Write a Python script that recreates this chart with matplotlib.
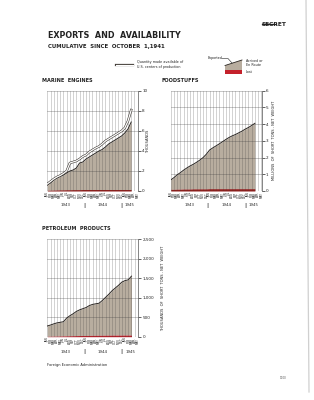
import matplotlib
matplotlib.use('Agg')
import matplotlib.pyplot as plt
import matplotlib.patheffects as pe
from matplotlib.lines import Line2D
from matplotlib.patches import Polygon, Rectangle

W, H = 314, 400

# ---------------- data ----------------
months = ['JAN', 'FEB', 'MAR', 'APR', 'MAY', 'JUN', 'JUL', 'AUG', 'SEP', 'OCT', 'NOV', 'DEC'] * 2 + \
         ['JAN', 'FEB', 'MAR', 'APR', 'MAY']
years = ['1943', '1944', '1945']

# Marine engines (thousands), Jan 1943 - Mar 1945
marine_exported = [0.6, 0.8, 1.1, 1.3, 1.45, 1.6, 1.8, 2.0, 2.1, 2.3, 2.8, 2.9, 3.2, 3.4,
                   3.6, 3.8, 4.0, 4.15, 4.4, 4.7, 4.9, 5.1, 5.3, 5.5, 5.8, 6.2, 6.9]
marine_available = [0.7, 0.95, 1.2, 1.4, 1.55, 1.75, 2.0, 2.8, 2.9, 3.0, 3.2, 3.45, 3.6, 3.9,
                    4.1, 4.3, 4.45, 4.7, 5.0, 5.2, 5.4, 5.6, 5.8, 6.0, 6.3, 7.0, 8.1]
marine_lost = [0.08, 0.09, 0.1, 0.11, 0.12, 0.12, 0.13, 0.13, 0.14, 0.14, 0.14, 0.15, 0.15, 0.15,
               0.15, 0.15, 0.15, 0.15, 0.15, 0.15, 0.15, 0.15, 0.15, 0.15, 0.15, 0.15, 0.15]

# Foodstuffs (millions of short tons)
food_exported = [0.66, 0.8, 0.97, 1.1, 1.25, 1.38, 1.5, 1.6, 1.72, 1.85, 2.0, 2.2, 2.45, 2.58,
                 2.7, 2.82, 2.95, 3.08, 3.2, 3.3, 3.38, 3.48, 3.58, 3.7, 3.8, 3.92, 4.05]
food_lost = [0.1, 0.1, 0.11, 0.11, 0.12, 0.12, 0.12, 0.13, 0.13, 0.13, 0.13, 0.13, 0.14, 0.14,
             0.14, 0.14, 0.14, 0.14, 0.14, 0.14, 0.14, 0.14, 0.14, 0.14, 0.14, 0.14, 0.14]

# Petroleum products (thousands of short tons)
petro_exported = [275, 300, 330, 355, 370, 385, 480, 540, 590, 650, 690, 720, 750, 800,
                  830, 845, 860, 930, 1010, 1090, 1180, 1250, 1320, 1400, 1440, 1460, 1555]
petro_lost = [10, 12, 14, 16, 18, 20, 22, 24, 26, 28, 30, 31, 32, 33,
              34, 35, 36, 37, 38, 39, 40, 40, 41, 41, 42, 42, 43]

FILL = '#b8ad9f'
RED = '#8e1f1c'
DARK = '#2b2622'
TXT = '#222222'

fig = plt.figure(figsize=(W / 100, H / 100), dpi=100)
fig.patch.set_facecolor('white')


def fx(px):
    return px / W


def fy(py):
    return 1 - py / H


def panel(rect, title, title_xy, exported, lost, available, ymax, ystep, fmt,
          ylabel, ylabel_x, year_py, lost_color):
    l, t, r, b = rect
    ax = fig.add_axes([fx(l), fy(b), (r - l) / W, (b - t) / H])
    x = list(range(len(exported)))
    ax.set_xlim(0, 28.1)
    ax.set_ylim(0, ymax)
    ax.fill_between(x, lost, exported, color=FILL, lw=0, zorder=1)
    ax.fill_between(x, 0, lost, color=lost_color, lw=0, zorder=2)
    for i in range(29):
        ax.axvline(i, color='#3a3a3a', alpha=0.35, lw=0.45, zorder=3)
    yt = [ystep * k for k in range(int(round(ymax / ystep)) + 1)]
    for yv in yt[1:]:
        ax.axhline(yv, color='#3a3a3a', alpha=0.45, lw=0.45, zorder=3)
    ax.plot(x, exported, color=DARK, lw=0.7, zorder=4)
    if available is not None:
        ax.plot(x, available, color='white', lw=0.9, zorder=5,
                path_effects=[pe.withStroke(linewidth=1.7, foreground='#3a3530')])
    ax.axhline(0, color=DARK, lw=0.7, zorder=4)
    for s in ['top', 'left', 'bottom']:
        ax.spines[s].set_visible(False)
    ax.spines['right'].set_color('#555555')
    ax.spines['right'].set_linewidth(0.5)
    ax.set_yticks(yt)
    ax.set_yticklabels([fmt(v) for v in yt])
    ax.tick_params(axis='y', left=False, right=True, labelleft=False, labelright=True,
                   length=2, width=0.5, labelsize=3.0, pad=1, colors=TXT)
    ax.set_xticks(range(29))
    ax.set_xticklabels(months, rotation=90, fontsize=2.0, color=TXT)
    ax.tick_params(axis='x', length=0, pad=0.8)
    ax.text(ylabel_x, 0.5, ylabel, rotation=90, transform=ax.transAxes,
            ha='center', va='center', fontsize=2.6, color=TXT)
    yy = (b - year_py) / (b - t)
    for xv, yr in zip([5.7, 17.2, 25.6], years):
        ax.text(xv, yy, yr, transform=ax.get_xaxis_transform(), ha='center',
                va='center', fontsize=2.8, color=TXT)
    for xv in [11.4, 22.9]:
        ax.text(xv, yy, '|', transform=ax.get_xaxis_transform(), ha='center',
                va='center', fontsize=4, color=TXT, weight='bold')
    fig.text(fx(title_xy[0]), fy(title_xy[1]), title, fontsize=3.6, weight='bold',
             va='center', ha='left', color=TXT)
    return ax


panel((47.3, 91, 138, 191), 'MARINE  ENGINES', (41.5, 80.5), marine_exported, marine_lost,
      marine_available, 10, 2, lambda v: f'{v:g}', 'THOUSANDS', 1.115, 205, RED)
panel((170.7, 90.7, 261.7, 191), 'FOODSTUFFS', (161, 80.5), food_exported, food_lost,
      None, 6, 1, lambda v: f'{v:g}', 'MILLIONS  OF  SHORT  TONS - NET  WEIGHT', 1.135, 205, RED)
panel((47.3, 239.3, 138.3, 336.7), 'PETROLEUM  PRODUCTS', (41.5, 229), petro_exported, petro_lost,
      None, 2500, 500, lambda v: f'{int(v):,}', 'THOUSANDS  OF  SHORT  TONS - NET  WEIGHT',
      1.27, 351.7, '#b3222a')

# ---------------- header ----------------
fig.text(fx(48), fy(36), 'EXPORTS  AND  AVAILABILITY', fontsize=5.8, weight='bold',
         va='center', ha='left', color=TXT)
fig.text(fx(48), fy(46.5), 'CUMULATIVE  SINCE  OCTOBER  1,1941', fontsize=3.85, weight='bold',
         va='center', ha='left', color=TXT)
fig.text(fx(274), fy(24), 'SECRET', fontsize=4.2, weight='bold', va='center', ha='center',
         color=TXT)
fig.add_artist(Line2D([fx(262), fx(276)], [fy(23.7), fy(23.7)], color=TXT, lw=0.9))

# legend: available line
fig.add_artist(Line2D([fx(116), fx(133)], [fy(64.5), fy(64.5)], color='white', lw=0.9,
                      path_effects=[pe.withStroke(linewidth=1.6, foreground='#3a3530')]))
fig.text(fx(137), fy(62), 'Quantity made available of', fontsize=2.4, va='center',
         ha='left', color=TXT)
fig.text(fx(137), fy(67), 'U.S. centers of production', fontsize=2.4, va='center',
         ha='left', color=TXT)

# legend: exported box
fig.add_artist(Polygon([(fx(225), fy(70)), (fx(225), fy(65.5)), (fx(242), fy(60)),
                        (fx(242), fy(70))], closed=True, facecolor=FILL, edgecolor='none'))
fig.add_artist(Line2D([fx(225), fx(242)], [fy(65.5), fy(60)], color=DARK, lw=0.6))
fig.add_artist(Rectangle((fx(225), fy(73.5)), fx(242) - fx(225), fy(70) - fy(73.5),
                         facecolor='#c4212b', edgecolor='none'))
fig.text(fx(208), fy(58.5), 'Exported', fontsize=2.4, va='center', ha='left', color=TXT)
fig.add_artist(Line2D([fx(222), fx(228), fx(232)], [fy(58.5), fy(58.5), fy(63)],
                      color=TXT, lw=0.4))
fig.text(fx(246), fy(61), 'Arrived or', fontsize=2.4, va='center', ha='left', color=TXT)
fig.text(fx(246), fy(65.5), 'En Route', fontsize=2.4, va='center', ha='left', color=TXT)
fig.text(fx(246), fy(72), 'Lost', fontsize=2.4, va='center', ha='left', color=TXT)

# footer
fig.text(fx(47), fy(365), 'Foreign Economic Administration', fontsize=2.6, va='center',
         ha='left', color=TXT)
fig.text(fx(283), fy(378), '1100', fontsize=2.0, va='center', ha='center', color='#555555')
fig.add_artist(Line2D([fx(306), fx(309)], [fy(0), fy(392)], color='#d0d0d0', lw=0.9))

fig.savefig('out.png', dpi=100, facecolor='white')
